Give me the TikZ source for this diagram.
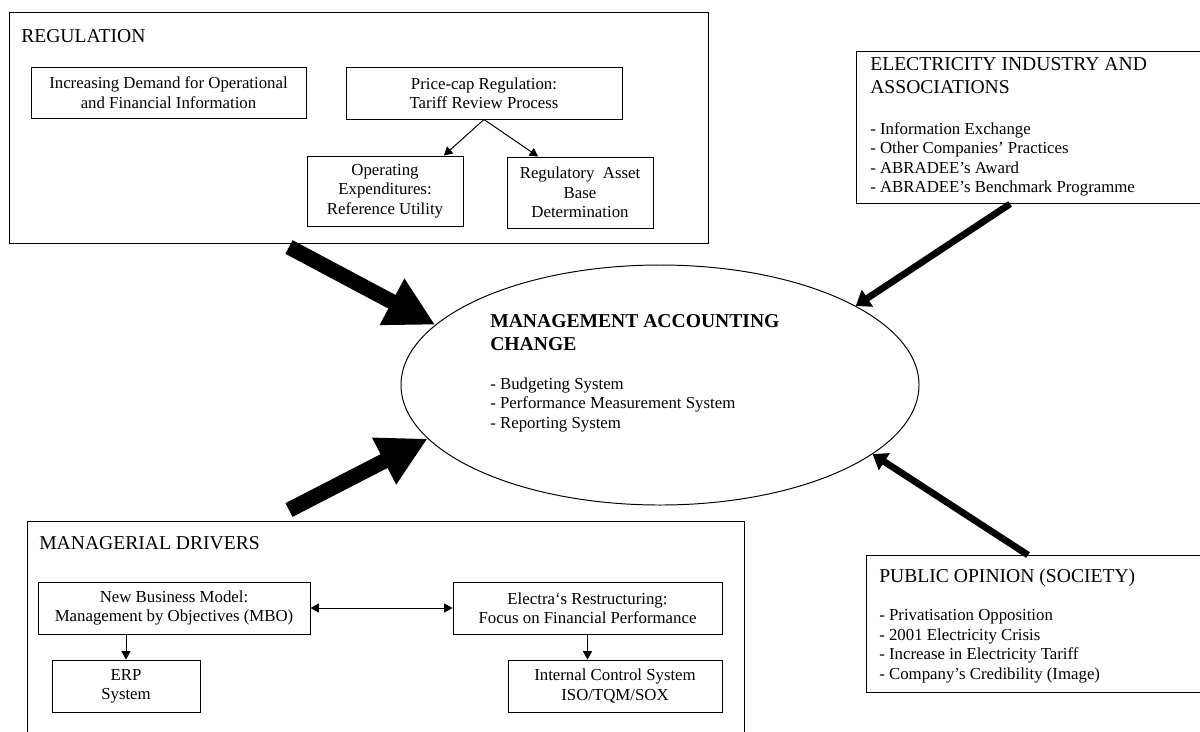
\documentclass[tikz,border=0pt]{standalone}
\usepackage{fontspec}
\setmainfont{Liberation Serif}
\usetikzlibrary{positioning, calc, arrows.meta, shapes.geometric}

\newcommand{\px}{0.714pt}
\tikzset{
  bigbox/.style={draw, line width=0.7pt, anchor=north west, inner sep=0pt},
  smallbox/.style={draw, line width=0.7pt, align=center, inner sep=0pt, font=\fontsize{12}{13.85}\selectfont},
  boxtitle/.style={anchor=base west, inner sep=0pt, align=left, font=\fontsize{14}{16.1}\selectfont},
  boxlist/.style={anchor=base west, inner sep=0pt, align=left, font=\fontsize{12}{13.85}\selectfont},
  fatarrow/.style={line width=11pt, -{Triangle[length=35pt,width=35pt]}},
  slimarrow/.style={line width=4.8pt, -{Triangle[length=10pt,width=14pt]}},
  link/.style={line width=0.7pt, -{Triangle[length=6pt,width=6.5pt]}},
}

\begin{document}
\begin{tikzpicture}[x=0.714pt, y=-0.714pt]
\clip (0,0) rectangle (1200,731);

% regulation
\node[bigbox, minimum width=699*\px, minimum height=231*\px] (reg) at (9,12) {};
\node[boxtitle] (regtitle) at (21,42) {REGULATION};
\node[smallbox, minimum width=275*\px, minimum height=51*\px] (demand) at (168.5,92.5) {Increasing Demand for Operational\\and Financial Information};
\node[smallbox, minimum width=276*\px, minimum height=52*\px] (pricecap) at (484,93) {Price-cap Regulation:\\Tariff Review Process};
\node[smallbox, minimum width=156*\px, minimum height=70*\px] (opex) at (385,191) {Operating\\Expenditures:\\Reference Utility};
\node[smallbox, minimum width=146*\px, minimum height=71*\px] (rab) at (580,192.5) {Regulatory~~Asset\\Base\\Determination};
\draw[link] (pricecap.south) -- ($(opex.north)!0.75!(opex.north east)$);
\draw[link] (pricecap.south) -- ($(rab.north)!0.57!(rab.north west)$);

% industry (last line sets the base)
\node[bigbox, minimum width=360*\px, minimum height=152*\px] (ele) at (856,51) {};
\node[boxtitle] (eletitle) at (870,93.5) {ELECTRICITY INDUSTRY AND\\ASSOCIATIONS};
\node[boxlist] (elelist) at (870,192.5) {- Information Exchange\\- Other Companies' Practices\\- ABRADEE's Award\\- ABRADEE's Benchmark Programme};

% centre
\node[draw, ellipse, line width=0.7pt, minimum width=518*\px, minimum height=240*\px] (mac) at (660,385) {};
\node[boxtitle, font={\fontsize{14}{16.4}\selectfont\bfseries}] (mactitle) at (490,350) {MANAGEMENT ACCOUNTING\\CHANGE};
\node[boxlist] (maclist) at (490,428) {- Budgeting System\\- Performance Measurement System\\- Reporting System};

% society
\node[bigbox, minimum width=350*\px, minimum height=137*\px] (pub) at (866,555) {};
\node[boxtitle] (pubtitle) at (879,582) {PUBLIC OPINION (SOCIETY)};
\node[boxlist] (publist) at (879,679) {- Privatisation Opposition\\- 2001 Electricity Crisis\\- Increase in Electricity Tariff\\- Company's Credibility (Image)};

% managerial
\node[bigbox, minimum width=717*\px, minimum height=240*\px] (mgr) at (27,521) {};
\node[boxtitle] (mgrtitle) at (39,549) {MANAGERIAL DRIVERS};
\node[smallbox, minimum width=272*\px, minimum height=52*\px] (nbm) at (174,608) {New Business Model:\\Management by Objectives (MBO)};
\node[smallbox, minimum width=269*\px, minimum height=52*\px] (restr) at (587.5,608) {Electra`s Restructuring:\\Focus on Financial Performance};
\node[smallbox, minimum width=148*\px, minimum height=52*\px] (erp) at (126,686) {ERP\\System};
\node[smallbox, minimum width=214*\px, minimum height=52*\px] (ics) at (615,686) {Internal Control System\\ISO/TQM/SOX};
\draw[link, {Triangle[length=6pt,width=6.5pt]}-{Triangle[length=6pt,width=6.5pt]}] (nbm) -- (restr);
\draw[link] (nbm.south -| erp.north) -- (erp.north);
\draw[link] (restr.south) -- (restr.south |- ics.north);

% drivers into the centre
\coordinate (regtail) at ($(reg.south west)!0.4!(reg.south east)+(0,3)$);
\coordinate (mgrtail) at (289,510);
\draw[fatarrow] (regtail) -- (mac.165.8);
\draw[fatarrow] (mgrtail) -- (mac.193.4);
\draw[slimarrow] ($(ele.south west)+(154,0)$) -- (mac.22.7);
\draw[slimarrow] ($(pub.north west)+(162,0)$) -- (mac.342.5);
\end{tikzpicture}
\end{document}
